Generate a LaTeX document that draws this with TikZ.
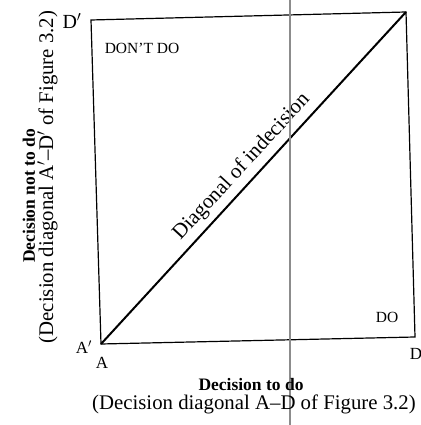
\documentclass[tikz,border=0pt]{standalone}
\usepackage{fontspec}
\setmainfont{Liberation Serif}
\begin{document}
\begin{tikzpicture}[x=1pt,y=1pt,
  fs/.style={font=\fontsize{#1}{#1}\selectfont, inner sep=0pt},
  fsb/.style={font=\fontsize{#1}{#1}\selectfont\bfseries, inner sep=0pt},
  boxline/.style={line width=1.2pt},
  diagline/.style={line width=2pt},
  foldline/.style={line width=1.4pt, draw=black!45}]
\useasboundingbox (0,0) rectangle (420,425);
\fill[white] (0,0) rectangle (420,425);
% corners (slightly skewed as in the scan)
\coordinate (TL) at (91,405);
\coordinate (TR) at (406,413);
\coordinate (BR) at (415,88);
\coordinate (BL) at (101,81);
\coordinate (foldtop) at (290,425);
\coordinate (foldbot) at (290,0);
\draw[boxline, line join=miter] (TL) -- (TR) -- (BR) -- (BL) -- cycle;
\draw[diagline] (BL) -- (TR);
\node[fs=21, rotate=47.4, anchor=base] (diag) at (245.4,254.4) {Diagonal of indecision};
\draw[foldline] (foldtop) -- (foldbot);
% corner labels
\node[fs=20] (Dp) at (72,404) {D$'$};
\node[fs=17] (Ap) at (84,78) {A$'$};
\node[fs=17] (A) at (102,62) {A};
\node[fs=17] (D) at (416,71) {D};
% region labels
\node[fs=15.5] (dont) at (142,377) {DON'T DO};
\node[fs=15.5] (do) at (387,108) {DO};
% axis labels
\node[fsb=17.5, anchor=base] (xlab) at (251,34) {Decision to do};
\node[fs=20.8, anchor=base west] (xsub) at (92,16) {(Decision diagonal A--D of Figure 3.2)};
\node[fsb=17.5, anchor=base, rotate=90] (ylab) at (35,229) {Decision not to do};
\node[fs=20.8, anchor=base, rotate=90] (ysub) at (53,248) {(Decision diagonal A$'$--D$'$ of Figure 3.2)};
\end{tikzpicture}
\end{document}
